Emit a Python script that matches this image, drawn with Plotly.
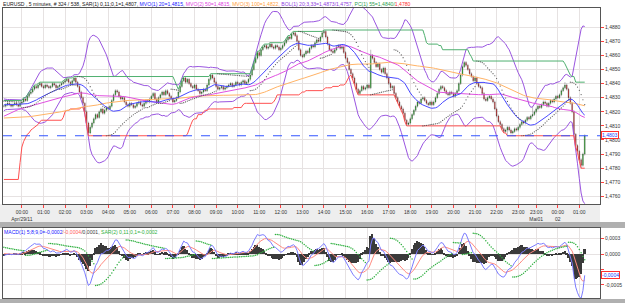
import numpy as np
import pandas as pd
import plotly.graph_objects as go

# ---------------- data (prices in pips relative to 1.4800) ----------------
BASE = 1.4800
PIP = 0.0001

WARMUP_CLOSE = [20, 21, 19, 18, 20, 22, 23, 21, 20, 19, 18, 17, 19, 21, 22, 20, 19, 21, 23, 24,
                22, 20, 18, 17, 16, 18, 19, 17, 15, 14, 16, 15, 13, 12, 14, 13, 11, 10, 12, 9,
                8, 6, 7, 5, 4, 3, 1, 0, -1, -2, -4, -6, -8, -12,
                -15,
                -4, 0, 3, 5, 6,
                8, 9, 10, 11, 12,
                14, 17, 19, 20, 21, 22, 21, 23, 22, 21, 23, 22, 20,
                17,
                21, 23, 22, 24, 25, 24, 26, 25, 23, 24, 26, 27, 25, 26, 27, 26, 25, 24, 26, 25, 24]

CLOSE = [24, 25, 26, 25, 24, 25, 26, 25, 24, 26,
         27, 29, 28, 31, 33, 34,
         36, 38, 37, 39, 40, 38, 37, 39, 38, 37, 38, 40, 39, 37, 38, 39, 40, 41,
         42, 43, 41, 40, 42, 44, 41,
         38, 34, 30, 26,
         20, 12, 5, 9,
         12, 15, 18, 16, 20, 22, 19, 21, 23, 22, 24,
         28, 32, 35, 34,
         31, 29, 30,
         27, 25, 24, 26, 25, 23, 24, 26, 27, 25, 24, 26, 28, 27, 29,
         31, 33, 29, 27, 30, 32,
         34, 32, 35, 33, 31,
         29, 27, 28, 30,
         34, 38, 42, 44, 41, 43,
         40, 38, 37, 39, 36,
         35, 33, 34, 36, 35,
         39, 43, 46, 44,
         41, 38, 36, 37, 38, 36, 37, 38,
         39, 40, 38, 39, 41, 40, 39, 41, 42, 40, 41, 43,
         46, 50, 55, 58, 62, 60, 64, 66,
         67, 65, 66, 68, 66, 65, 67, 66, 64, 65, 67,
         69, 71, 73, 72, 75, 76,
         74, 70, 64, 60,
         59, 61, 63, 62,
         65, 67, 66, 69, 71, 70, 73, 76, 77,
         73, 68, 64, 63, 62,
         64, 66, 67, 65, 66,
         62, 58, 55, 50, 47, 44, 40, 36, 33, 35,
         38, 36, 37, 39, 37,
         60,
         58, 55, 52, 54, 50, 48, 51, 47,
         44, 40, 37, 38,
         33, 30, 27, 24, 22, 19,
         14, 11, 12, 15,
         18, 21, 24, 27, 26, 29, 30,
         28, 26, 25, 27, 25, 27,
         30, 33, 36, 38, 37,
         35, 33, 32, 34, 33, 31, 33, 35,
         40, 46, 52, 55, 53,
         50, 47, 45, 42, 44, 40, 38, 37,
         33, 29, 28,
         30, 31, 29, 27,
         22, 17, 13, 11,
         8, 6, 7, 9, 7, 5, 6, 8, 7,
         9, 11, 13, 12, 14, 16, 15, 17, 18,
         20, 22, 24, 23, 25, 27, 26, 24, 26, 28,
         27, 29, 31, 30, 32,
         35, 37, 39, 36,
         30, 26, 20,
         4, -4, -8,
         -14, -18,
         -10, 3]

HIGH_SPIKES = {47: 6, 204: 64, 294: 24, 312: 41}
LOW_SPIKES = {-46: -28, -22: 14, 47: 3, 280: 3, 321: -20}

FRI_START = "2011-04-28 23:10"
FRI_BARS = 296
SUN_START = "2011-05-01 23:00"
SUN_BARS = 28
DATE_LABELS = {"2011-04-29": "Apr/29/11", "2011-05-01": "Mai01", "2011-05-02": "02"}

TITLE_PARTS = [("EURUSD , 5 minutes, # 324 / 538, SAR(1) 0,11;0,1=1,4807, ", "#202020"),
               ("MVO(1) 20=1,4815, ", "#2020ff"),
               ("MVO(2) 50=1,4815, ", "#e040e0"),
               ("MVO(3) 100=1,4822, ", "#ffa040"),
               ("BOL(1) 20;3,33=1,4873/1,4757, ", "#9040e0"),
               ("PC(1) 55=1,4840/", "#30a050"),
               ("1,4780", "#ff3030")]
LOWER_PARTS = [("MACD(1) 5;8;9,0=-0,0002", "#2020ff"),
               ("/-0,0004", "#ff6060"),
               ("/0,0001, ", "#404040"),
               ("SAR(2) 0,11;0,1=-0,0002", "#30b040")]

# ---------------- derived series ----------------
allc = np.array(WARMUP_CLOSE + CLOSE, dtype=float)
nw = len(WARMUP_CLOSE)
opn = np.concatenate([[allc[0]], allc[:-1]])
hi = np.maximum(opn, allc) + 1.0
lo = np.minimum(opn, allc) - 1.0
for k, v in HIGH_SPIKES.items():
    hi[k + nw] = max(hi[k + nw], v)
for k, v in LOW_SPIKES.items():
    lo[k + nw] = min(lo[k + nw], v)

P = lambda a: BASE + np.asarray(a) * PIP
C, O, H, L = P(allc), P(opn), P(hi), P(lo)
s = pd.Series(C)
ma20 = s.rolling(20).mean().values
ma50 = s.rolling(50).mean().values
ma100 = s.rolling(100, min_periods=1).mean().values
sd20 = s.rolling(20).std(ddof=0).values
bbu = ma20 + 3.33 * sd20
bbl = ma20 - 3.33 * sd20
pcu = pd.Series(H).rolling(55, min_periods=1).max().values
pcl = pd.Series(L).rolling(55, min_periods=1).min().values


def psar(high, low, step, max_af):
    n = len(high)
    out = np.zeros(n)
    bull = True
    af = step
    ep = high[0]
    out[0] = low[0]
    for i in range(1, n):
        prev = out[i - 1]
        v = prev + af * (ep - prev)
        if bull:
            v = min(v, low[i - 1], low[max(i - 2, 0)])
            if low[i] < v:
                bull, v, ep, af = False, ep, low[i], step
            elif high[i] > ep:
                ep, af = high[i], min(af + step, max_af)
        else:
            v = max(v, high[i - 1], high[max(i - 2, 0)])
            if high[i] > v:
                bull, v, ep, af = True, ep, high[i], step
            elif low[i] < ep:
                ep, af = low[i], min(af + step, max_af)
        out[i] = v
    return out


sar = psar(H, L, 0.01, 0.1)
ema_f = s.ewm(span=5, adjust=False).mean()
ema_s = s.ewm(span=8, adjust=False).mean()
macd = (ema_f - ema_s)
sig = macd.ewm(span=9, adjust=False).mean()
hist = (macd - sig).values
macd = macd.values
sig = sig.values
msar = psar(macd, macd, 0.01, 0.1)

vis = slice(nw, None)
n = len(CLOSE)
x = np.arange(n)
times = list(pd.date_range(FRI_START, periods=FRI_BARS, freq="5min")) + \
        list(pd.date_range(SUN_START, periods=SUN_BARS, freq="5min"))
tickv, tickt = [], []
used = set()
for i, t in enumerate(times):
    if t.minute == 0:
        lab = t.strftime("%H:%M")
        d = t.strftime("%Y-%m-%d")
        if d in DATE_LABELS and d not in used:
            lab += "<br>" + DATE_LABELS[d]
            used.add(d)
        tickv.append(i)
        tickt.append(lab)

# ---------------- figure ----------------
W, Hh = 625, 303
FONT = "Liberation Sans"
px = lambda v: v / W
py = lambda v: 1 - v / Hh

fig = go.Figure()
line = lambda yv, col, w=1: go.Scatter(x=x, y=yv[vis], mode="lines", line=dict(color=col, width=w),
                                       hoverinfo="skip", showlegend=False)
fig.add_trace(line(bbu, "#9a55e0"))
fig.add_trace(line(bbl, "#9a55e0"))
fig.add_trace(line(pcu, "#50b070"))
fig.add_trace(line(pcl, "#ff5050"))
fig.add_trace(line(ma100, "#ffb366"))
fig.add_trace(line(ma50, "#e050e0"))
fig.add_trace(line(ma20, "#4848ff"))
fig.add_trace(go.Scatter(x=x, y=sar[vis], mode="markers", marker=dict(color="#555555", size=1.2),
                         hoverinfo="skip", showlegend=False))
fig.add_trace(go.Candlestick(x=x, open=O[vis], high=H[vis], low=L[vis], close=C[vis],
                             increasing=dict(line=dict(color="#2a2a2a", width=0.3), fillcolor="#1fae1f"),
                             decreasing=dict(line=dict(color="#2a2a2a", width=0.3), fillcolor="#d92a2a"),
                             whiskerwidth=0, showlegend=False, hoverinfo="skip"))

# lower panel
fig.add_trace(go.Bar(x=x, y=hist[vis], marker=dict(color="#3a3a3a", line=dict(width=0)), width=0.9,
                     xaxis="x2", yaxis="y2", showlegend=False, hoverinfo="skip"))
fig.add_trace(go.Scatter(x=x, y=sig[vis], mode="lines", line=dict(color="#ff8a80", width=1),
                         xaxis="x2", yaxis="y2", showlegend=False, hoverinfo="skip"))
fig.add_trace(go.Scatter(x=x, y=macd[vis], mode="lines", line=dict(color="#7b7bff", width=1),
                         xaxis="x2", yaxis="y2", showlegend=False, hoverinfo="skip"))
fig.add_trace(go.Scatter(x=x, y=msar[vis], mode="markers", marker=dict(color="#30b040", size=1.5),
                         xaxis="x2", yaxis="y2", showlegend=False, hoverinfo="skip"))

xr = [-0.5, 331.5]
grid = "#e6e2e2"
ytv = [round(1.4760 + 0.001 * k, 4) for k in range(13)]
fig.update_layout(
    width=W, height=Hh, margin=dict(l=0, r=0, t=0, b=0),
    paper_bgcolor="#ffffff", plot_bgcolor="#ffffff",
    font=dict(family=FONT, size=5, color="#333333"),
    bargap=0,
    xaxis=dict(domain=[px(3), px(600)], range=xr, tickvals=tickv, ticktext=tickt,
               ticks="outside", ticklen=3, tickcolor="#ff4040", showgrid=True, gridcolor=grid,
               gridwidth=1, zeroline=False, showline=True, linecolor="#555555", mirror=True,
               rangeslider=dict(visible=False), tickfont=dict(size=5, color="#333333"), anchor="y"),
    yaxis=dict(domain=[py(204), py(8)], range=[1.47546, 1.48936], side="right", tickvals=ytv,
               ticktext=[f"{v:.4f}".replace(".", ",") for v in ytv], ticks="outside", ticklen=3,
               tickcolor="#ff4040", showgrid=True, gridcolor=grid, zeroline=False, showline=True,
               linecolor="#555555", mirror=True, tickfont=dict(size=5, color="#333333"), anchor="x"),
    xaxis2=dict(domain=[px(3), px(600)], range=xr, matches="x", tickvals=tickv, showticklabels=False,
                ticks="", showgrid=True, gridcolor=grid, zeroline=False, showline=True,
                linecolor="#555555", mirror=True, anchor="y2"),
    yaxis2=dict(domain=[py(298), py(228)], range=[-0.00074, 0.00044], side="right",
                tickvals=[0.00026, 0.0, -0.00026, -0.00052, -0.00078],
                ticktext=["0,0003", "0,0000", "", "-0,0005", "-0,0007"], ticks="outside", ticklen=3,
                tickcolor="#ff4040", showgrid=True, gridcolor=grid, zeroline=False, showline=True,
                linecolor="#555555", mirror=True, tickfont=dict(size=5, color="#333333"), anchor="x2"),
)

shapes = [
    dict(type="rect", xref="paper", yref="paper", x0=0, x1=1, y0=py(228), y1=py(222),
         fillcolor="#b0b0b0", line=dict(width=0), layer="below"),
    dict(type="rect", xref="paper", yref="paper", x0=0, x1=1, y0=0, y1=py(299),
         fillcolor="#b0b0b0", line=dict(width=0), layer="below"),
    dict(type="rect", xref="paper", yref="paper", x0=0, x1=px(600), y0=py(222), y1=py(204),
         fillcolor="#eeeeee", line=dict(width=0), layer="below"),
    dict(type="line", xref="x", yref="y", x0=xr[0], x1=xr[1], y0=C[-1], y1=C[-1],
         line=dict(color="#3355ff", width=1, dash="dash")),
]
fig.update_layout(shapes=shapes)


def spans(parts):
    return "".join(f"<span style='color:{c}'>{t}</span>" for t, c in parts)


ann = [dict(text=spans(TITLE_PARTS), x=px(1), y=py(3.8), xref="paper", yref="paper", xanchor="left",
            yanchor="middle", showarrow=False, font=dict(size=5.1, family=FONT)),
       dict(text=spans(LOWER_PARTS), x=px(2), y=py(231.5), xref="paper", yref="paper", xanchor="left",
            yanchor="middle", showarrow=False, font=dict(size=5.1, family=FONT))]
ann.append(dict(text=f"{C[-1]:.4f}".replace(".", ","), x=px(601), y=C[-1], xref="paper", yref="y",
                xanchor="left", yanchor="middle", yshift=1, showarrow=False, bgcolor="#ffffff",
                bordercolor="#ff3030", borderwidth=1, borderpad=0, font=dict(size=5, color="#2040ff")))
ann.append(dict(text=f"{macd[-1]:.4f}".replace(".", ","), x=px(601), y=macd[-1], xref="paper", yref="y2",
                xanchor="left", yanchor="middle", showarrow=False, bgcolor="#ffffff",
                bordercolor="#ff3030", borderwidth=1, borderpad=0, font=dict(size=5, color="#2040ff")))
fig.update_layout(annotations=ann)

fig.write_html("out.html")
